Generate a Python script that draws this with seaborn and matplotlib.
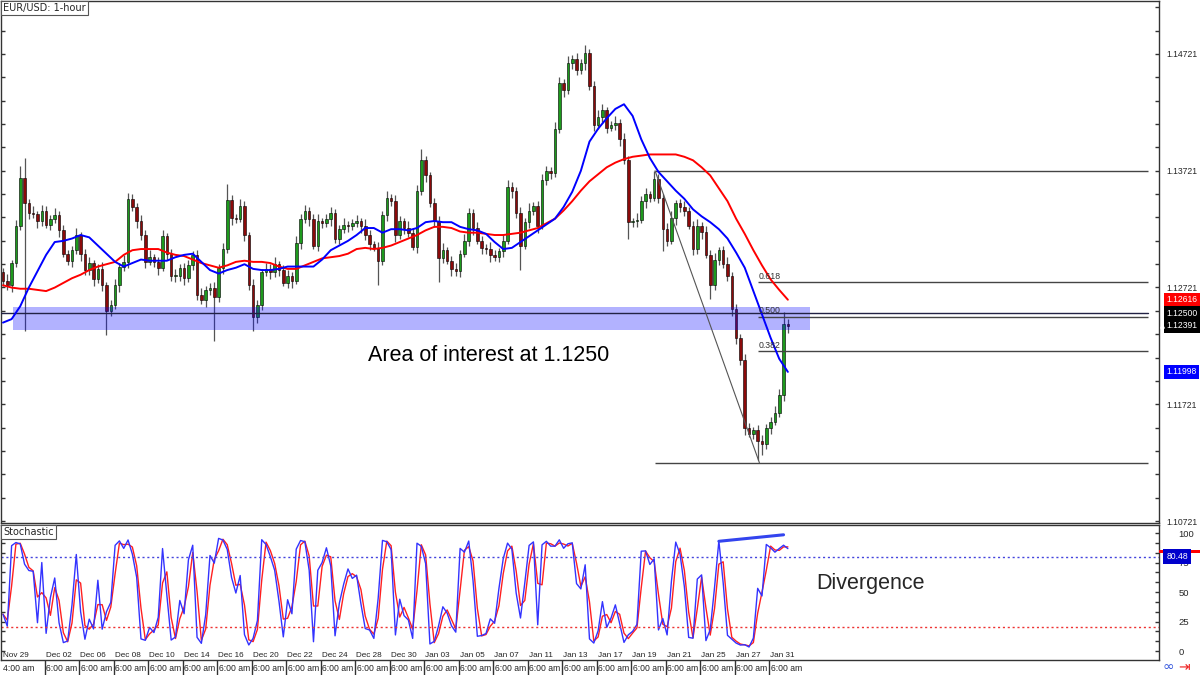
import numpy as np
import pandas as pd
import matplotlib
matplotlib.use("Agg")
import matplotlib.pyplot as plt
import matplotlib.ticker as mticker
from matplotlib.patches import Rectangle
from matplotlib.transforms import blended_transform_factory
import seaborn as sns

# EUR/USD candles (6-hour bars)
first_open = 1.1285
closes = [
    1.1278, 1.1274, 1.1293, 1.1325, 1.1366, 1.1344, 1.1336, 1.1335, 1.1329, 1.1338,
    1.1326, 1.1331, 1.1334, 1.1321, 1.1301, 1.1295, 1.1304, 1.1317, 1.1301, 1.1287,
    1.1293, 1.1279, 1.1288, 1.1274, 1.1252, 1.1257, 1.1274, 1.1290, 1.1294, 1.1348,
    1.1341, 1.1329, 1.1317, 1.1294, 1.1298, 1.1294, 1.1289, 1.1316, 1.1301, 1.1282,
    1.1282, 1.1289, 1.1280, 1.1291, 1.1300, 1.1266, 1.1261, 1.1270, 1.1272, 1.1264,
    1.1289, 1.1305, 1.1347, 1.1332, 1.1331, 1.1342, 1.1317, 1.1274, 1.1247, 1.1257,
    1.1285, 1.1288, 1.1285, 1.1292, 1.1287, 1.1276, 1.1282, 1.1278, 1.1310, 1.1331,
    1.1338, 1.1331, 1.1308, 1.1329, 1.1327, 1.1331, 1.1336, 1.1314, 1.1322, 1.1326,
    1.1325, 1.1327, 1.1329, 1.1325, 1.1317, 1.1309, 1.1306, 1.1295, 1.1334, 1.1349,
    1.1346, 1.1317, 1.1329, 1.1323, 1.1319, 1.1307, 1.1355, 1.1381, 1.1368, 1.1344,
    1.1329, 1.1297, 1.1304, 1.1295, 1.1288, 1.1286, 1.1301, 1.1312, 1.1336, 1.1323,
    1.1312, 1.1306, 1.1305, 1.1300, 1.1298, 1.1303, 1.1312, 1.1358, 1.1355, 1.1336,
    1.1308, 1.1328, 1.1338, 1.1342, 1.1325, 1.1364, 1.1372, 1.1370, 1.1408, 1.1447,
    1.1441, 1.1464, 1.1468, 1.1458, 1.1464, 1.1473, 1.1445, 1.1411, 1.1418, 1.1424,
    1.1409, 1.1411, 1.1413, 1.1399, 1.1381, 1.1328, 1.1329, 1.1330, 1.1346, 1.1352,
    1.1349, 1.1365, 1.1349, 1.1322, 1.1312, 1.1332, 1.1344, 1.1341, 1.1338, 1.1325,
    1.1305, 1.1325, 1.1320, 1.1300, 1.1274, 1.1296, 1.1304, 1.1292, 1.1282, 1.1254,
    1.1229, 1.1210, 1.1152, 1.1147, 1.1150, 1.1141, 1.1138, 1.1152, 1.1157, 1.1165,
    1.1180, 1.1241, 1.12391,
]
# wick lengths beyond the body, in pips
hi_wick = [
    4, 6, 3, 5, 10, 17, 4, 6, 3, 5,
    4, 3, 6, 4, 5, 3, 4, 6, 3, 4,
    5, 3, 4, 6, 3, 4, 5, 3, 6, 5,
    4, 3, 5, 4, 6, 3, 4, 5, 3, 4,
    6, 3, 4, 5, 3, 4, 6, 3, 4, 5,
    3, 5, 14, 4, 3, 6, 4, 3, 5, 4,
    3, 5, 4, 6, 3, 4, 5, 3, 6, 4,
    5, 3, 4, 6, 3, 4, 5, 3, 4, 6,
    3, 4, 5, 3, 6, 4, 3, 5, 4, 6,
    3, 5, 4, 3, 6, 4, 5, 10, 4, 3,
    5, 4, 6, 3, 4, 5, 3, 6, 4, 3,
    5, 4, 3, 6, 4, 3, 5, 6, 4, 3,
    5, 4, 6, 3, 4, 5, 4, 3, 6, 5,
    4, 6, 3, 5, 4, 7, 3, 4, 6, 5,
    3, 4, 6, 3, 5, 4, 3, 6, 4, 5,
    3, 7, 4, 3, 5, 6, 3, 4, 5, 3,
    4, 6, 3, 5, 4, 6, 3, 4, 6, 3,
    4, 3, 5, 4, 3, 4, 5, 3, 4, 6,
    5, 10, 4,
]
lo_wick = [
    5, 4, 6, 3, 4, 109, 5, 3, 6, 4,
    3, 5, 4, 6, 3, 4, 5, 3, 6, 4,
    4, 6, 3, 5, 21, 4, 3, 6, 4, 5,
    3, 6, 4, 5, 3, 4, 6, 3, 5, 4,
    5, 4, 6, 3, 4, 5, 3, 6, 4, 38,
    4, 5, 3, 6, 4, 3, 5, 4, 12, 5,
    4, 3, 6, 4, 5, 3, 4, 6, 3, 5,
    4, 6, 3, 5, 4, 3, 6, 4, 5, 3,
    5, 4, 3, 6, 4, 5, 3, 21, 4, 5,
    4, 6, 3, 5, 4, 3, 5, 4, 6, 3,
    5, 20, 4, 3, 6, 4, 5, 3, 4, 6,
    3, 5, 4, 6, 3, 4, 5, 3, 6, 4,
    21, 3, 5, 4, 6, 3, 4, 5, 3, 4,
    6, 3, 5, 4, 3, 6, 4, 5, 3, 4,
    5, 3, 4, 6, 3, 14, 4, 5, 3, 6,
    4, 3, 5, 19, 4, 3, 6, 4, 5, 3,
    5, 4, 6, 3, 12, 4, 5, 3, 4, 6,
    5, 4, 6, 3, 5, 17, 9, 4, 5, 3,
    4, 5, 6,
]
# moving averages, one value every 2 bars
ma_step = 2
blue_ma = [
    1.1242, 1.1245, 1.1256, 1.1272, 1.1286, 1.1300, 1.1311, 1.1312, 1.1314, 1.1317,
    1.1315, 1.1308, 1.1301, 1.1294, 1.1290, 1.1293, 1.1296, 1.1295, 1.1295, 1.1295,
    1.1298, 1.1300, 1.1301, 1.1294, 1.1287, 1.1284, 1.1287, 1.1289, 1.1292, 1.1288,
    1.1287, 1.1287, 1.1288, 1.1290, 1.1290, 1.1290, 1.1290, 1.1296, 1.1304, 1.1308,
    1.1312, 1.1317, 1.1323, 1.1323, 1.1319, 1.1322, 1.1322, 1.1321, 1.1323, 1.1328,
    1.1329, 1.1328, 1.1328, 1.1324, 1.1322, 1.1321, 1.1318, 1.1311, 1.1305, 1.1306,
    1.1311, 1.1316, 1.1321, 1.1326, 1.1331, 1.1341, 1.1354, 1.1372, 1.1397, 1.1408,
    1.1417, 1.1425, 1.1429, 1.1419, 1.1399, 1.1383, 1.1371, 1.1363, 1.1355, 1.1348,
    1.1339, 1.1333, 1.1328, 1.1322, 1.1314, 1.1302, 1.1289, 1.1269, 1.1249, 1.1229,
    1.1211, 1.11998,
]
red_ma = [
    1.1274, 1.1272, 1.1271, 1.1271, 1.1270, 1.1269, 1.1272, 1.1276, 1.1280, 1.1283,
    1.1287, 1.1290, 1.1292, 1.1294, 1.1300, 1.1304, 1.1305, 1.1305, 1.1305, 1.1302,
    1.1300, 1.1299, 1.1296, 1.1293, 1.1291, 1.1289, 1.1291, 1.1294, 1.1295, 1.1294,
    1.1294, 1.1293, 1.1290, 1.1288, 1.1288, 1.1291, 1.1294, 1.1297, 1.1298, 1.1299,
    1.1301, 1.1305, 1.1306, 1.1305, 1.1306, 1.1308, 1.1311, 1.1314, 1.1317, 1.1321,
    1.1324, 1.1324, 1.1323, 1.1320, 1.1319, 1.1319, 1.1318, 1.1317, 1.1317, 1.1318,
    1.1319, 1.1321, 1.1323, 1.1327, 1.1331, 1.1338, 1.1346, 1.1355, 1.1363, 1.1369,
    1.1375, 1.1379, 1.1382, 1.1384, 1.1385, 1.1386, 1.1386, 1.1386, 1.1386, 1.1384,
    1.1381, 1.1375, 1.1368, 1.1357, 1.1346, 1.1331, 1.1318, 1.1304, 1.1291, 1.1279,
    1.1270, 1.12616,
]

area_low, area_high, area_line = 1.12353, 1.1255, 1.12500
fib_high, fib_low = 1.1372, 1.1122
fib_levels = [0.618, 0.500, 0.382]
fib_labels = ["0.618", "0.500", "0.382"]
div_bars = [166, 181]
div_values = [93, 98.5]
stoch_last = 80.48

date_labels = ["Nov 29", "Dec 02", "Dec 06", "Dec 08", "Dec 10", "Dec 14", "Dec 16",
               "Dec 20", "Dec 22", "Dec 24", "Dec 28", "Dec 30", "Jan 03", "Jan 05",
               "Jan 07", "Jan 11", "Jan 13", "Jan 17", "Jan 19", "Jan 21", "Jan 25",
               "Jan 27", "Jan 31"]
time_labels = ["4:00 am"] + ["6:00 am"] * 22

# ---- build frame
df = pd.DataFrame({"close": closes})
df["open"] = [first_open] + closes[:-1]
df["high"] = df[["open", "close"]].max(axis=1) + np.array(hi_wick) / 10000
df["low"] = df[["open", "close"]].min(axis=1) - np.array(lo_wick) / 10000
df["bar"] = np.arange(len(df))

# stochastic from the candles
n = 3
lo_n = df["low"].rolling(n, min_periods=1).min()
hi_n = df["high"].rolling(n, min_periods=1).max()
df["stoch_k"] = 100 * (df["close"] - lo_n) / (hi_n - lo_n)
df["stoch_d"] = df["stoch_k"].rolling(2, min_periods=1).mean()

ma = pd.DataFrame({"bar": np.arange(len(blue_ma)) * ma_step, "blue": blue_ma, "red": red_ma})

sns.set_theme(style="white")
plt.rcParams["font.family"] = ["DejaVu Sans"]

axis_family = ["Liberation Sans", "DejaVu Sans"]
axis_size, date_size = 6.2, 5.9

fig = plt.figure(figsize=(12, 6.75), dpi=100)
ax = fig.add_axes([1 / 1200, 152 / 675, 1158 / 1200, 522 / 675])
ax2 = fig.add_axes([1 / 1200, 15 / 675, 1158 / 1200, 135 / 675])
x0, x1 = -0.46, 268.06
for a in (ax, ax2):
    a.set_xlim(x0, x1)
    for s in a.spines.values():
        s.set_color("#333333")
        s.set_linewidth(1)
ax.set_ylim(1.10704, 1.15174)
ax2.set_ylim(-7.6, 106.8)

# candles
up = df["close"] >= df["open"]
ax.vlines(df["bar"], df["low"], df["high"], color="#555555", linewidth=0.9, zorder=2)
body = (df["close"] - df["open"]).abs().clip(lower=0.00005)
ax.bar(df["bar"], body, bottom=df[["open", "close"]].min(axis=1), width=0.6,
       color=np.where(up, "#1d9a1d", "#8b0a0a"), edgecolor="black", linewidth=0.4, zorder=3)

# area of interest
ax.fill_between([2.3, 187.1], area_low, area_high, color="blue", alpha=0.3, linewidth=0, zorder=4)
ax.axhline(area_line, xmax=(265.5 - x0) / (x1 - x0), color="#222244", linewidth=1, zorder=5)

# moving averages
sns.lineplot(data=ma, x="bar", y="red", ax=ax, color="#ff0000", linewidth=1.4, zorder=6)
sns.lineplot(data=ma, x="bar", y="blue", ax=ax, color="#0000ff", linewidth=1.4, zorder=6)

# fibonacci retracement
fib_rng = fib_high - fib_low
ax.hlines([fib_high, fib_low], 151.2, 265.5, color="#444444", linewidth=1, zorder=5)
ax.plot([151.2, 175.4], [fib_high, fib_low], color="#555555", linewidth=0.8, zorder=5)
for lev, lab in zip(fib_levels, fib_labels):
    yv = fib_low + lev * fib_rng
    ax.hlines(yv, 175.1, 265.5, color="#444444", linewidth=1, zorder=5)
    ax.text(175.2, yv + 0.00012, lab, fontsize=6.3, color="#333333", va="bottom", ha="left",
            family=axis_family, zorder=7)

ax.text(112.7, 1.1214, "Area of interest at 1.1250", fontsize=15.5, ha="center", va="center",
        family=["Liberation Sans", "DejaVu Sans"], color="black")

# price axis
ax.yaxis.tick_right()
ax.set_yticks([1.10721, 1.11721, 1.12721, 1.13721, 1.14721])
ax.yaxis.set_major_formatter(mticker.FormatStrFormatter("%.5f"))
ax.yaxis.set_minor_locator(mticker.FixedLocator(np.arange(1.10721, 1.1520, 0.002)))
ax.tick_params(axis="y", which="both", left=True, right=True, labelleft=False, labelright=True,
               direction="in", length=3, width=1, color="#333333", labelsize=axis_size, pad=5)
for t in ax.get_yticklabels():
    t.set_family(axis_family)
ax.set_xticks([])
ax.set_xlabel("")
ax.set_ylabel("")

tr = blended_transform_factory(ax.transAxes, ax.transData)
for val, fc in [(1.12616, "#ff0000"), (1.12500, "black"), (1.12391, "black"), (1.11998, "#0000ff")]:
    ax.text(1.0062, val, f"{val:.5f}", transform=tr, ha="left", va="center", fontsize=axis_size,
            family=axis_family, color="white", clip_on=False, zorder=10,
            bbox=dict(boxstyle="square,pad=0.3", fc=fc, ec="none"))
ax.plot([1.0030], [1.12391], transform=tr, marker="^", markersize=2.5, color="white",
        clip_on=False, zorder=12)

ax.text(0.002, 0.996, "EUR/USD: 1-hour", transform=ax.transAxes, ha="left", va="top",
        fontsize=7, bbox=dict(boxstyle="square,pad=0.2", fc="white", ec="#555555", lw=0.8))

# stochastic panel
sns.lineplot(data=df, x="bar", y="stoch_d", ax=ax2, color="#ff2020", linewidth=1.0)
sns.lineplot(data=df, x="bar", y="stoch_k", ax=ax2, color="#3333ff", linewidth=1.0)
ax2.axhline(80, color="#4444dd", linestyle=(0, (1.5, 2)), linewidth=1)
ax2.axhline(20, color="#ee3333", linestyle=(0, (1.5, 2)), linewidth=1)
ax2.plot(div_bars, div_values, color="#3344ee", linewidth=2.2)
ax2.text(201.1, 57.6, "Divergence", fontsize=15.5, ha="center", va="center",
         family=["Liberation Sans", "DejaVu Sans"])
ax2.text(0.002, 0.985, "Stochastic", transform=ax2.transAxes, ha="left", va="top",
         fontsize=7, bbox=dict(boxstyle="square,pad=0.2", fc="white", ec="#555555", lw=0.8))

ax2.yaxis.tick_right()
ax2.set_yticks([0, 25, 50, 75, 100])
ax2.yaxis.set_minor_locator(mticker.MultipleLocator(25 / 3))
ax2.tick_params(axis="y", which="both", left=True, right=True, labelleft=False, labelright=True,
                direction="in", length=3, width=1, color="#333333", labelsize=axis_size + 0.6, pad=14)
for t in ax2.get_yticklabels():
    t.set_family(axis_family)
ax2.set_xlabel("")
ax2.set_ylabel("")

tr2 = blended_transform_factory(ax2.transAxes, ax2.transData)
ax2.add_patch(Rectangle((1.0, stoch_last + 2.5), 0.036, 3.0, transform=tr2, fc="#ff0000",
                        ec="none", clip_on=False, zorder=9))
ax2.text(1.0062, stoch_last, f"{stoch_last:.2f}", transform=tr2, ha="left", va="center",
         fontsize=axis_size, family=axis_family, color="white", clip_on=False, zorder=10,
         bbox=dict(boxstyle="square,pad=0.35", fc="#0000cc", ec="none"))

# time axis
tick_pos = [-0.23] + [9.74 + 8 * j for j in range(len(date_labels) - 1)]
ax2.set_xticks(tick_pos[1:])
ax2.tick_params(axis="x", which="both", bottom=True, direction="out", length=12, width=1,
                color="#333333", labelbottom=False)
trx = blended_transform_factory(ax2.transData, ax2.transAxes)
for pos, dl, tl in zip(tick_pos, date_labels, time_labels):
    ax2.text(pos + 0.2, 0.035, dl, transform=trx, ha="left", va="center", fontsize=date_size,
             family=axis_family, color="#222222")
    ax2.text(pos + 0.25, -0.06, tl, transform=trx, ha="left", va="center", fontsize=axis_size,
             family=axis_family, color="#222222", clip_on=False)

fig.text(1168 / 1200, 8 / 675, "\u221e", color="#3355dd", fontsize=10, ha="center", va="center")
fig.text(1184 / 1200, 8 / 675, "\u21e5", color="#ee2222", fontsize=10, ha="center", va="center")

fig.savefig("out.png", dpi=100)
